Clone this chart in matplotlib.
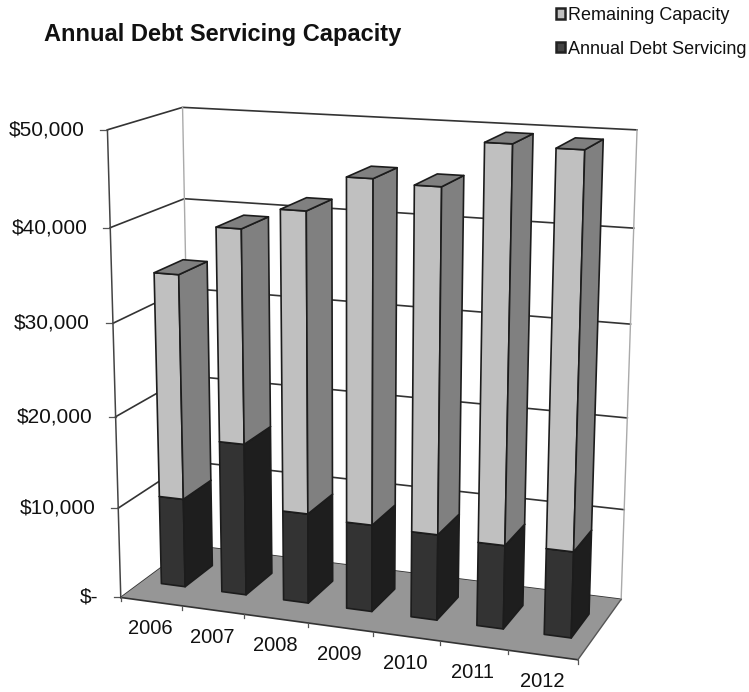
import numpy as np
import matplotlib
matplotlib.use("Agg")
import matplotlib.pyplot as plt
from matplotlib.patches import Patch, Polygon

plt.rcParams['font.family'] = ['Liberation Sans', 'DejaVu Sans']

years = ["2006", "2007", "2008", "2009", "2010", "2011", "2012"]
debt_service = [9900, 16750, 9900, 9500, 9300, 9000, 9200]
remaining = [24500, 22950, 32100, 36200, 36000, 40900, 40500]
tick_values = [0, 10000, 20000, 30000, 40000, 50000]
tick_labels = ["$-", "$10,000", "$20,000", "$30,000", "$40,000", "$50,000"]

AXIS_MAX = 50000
N = len(years)

# box corners as seen on the page: (category, depth, height) -> pixel
corners = [
    ((0, 0, 0), (122, 598)),
    ((1, 0, 0), (577, 660)),
    ((0, 1, 0), (190, 545)),
    ((1, 1, 0), (622, 599)),
    ((0, 0, 1), (107, 129)),
    ((0, 1, 1), (183, 108)),
    ((1, 1, 1), (637, 130)),
]


def fit_camera(pairs):
    rows = []
    for (x, y, z), (u, v) in pairs:
        rows.append([x, y, z, 1, 0, 0, 0, 0, -u * x, -u * y, -u * z, -u])
        rows.append([0, 0, 0, 0, x, y, z, 1, -v * x, -v * y, -v * z, -v])
    return np.linalg.svd(np.array(rows, dtype=float))[2][-1].reshape(3, 4)


CAM = fit_camera(corners)


def project(cat, depth, value):
    p = CAM @ np.array([cat / N, depth, value / AXIS_MAX, 1.0])
    return p[0] / p[2], p[1] / p[2]


def face(ax, pts, color, z):
    ax.add_patch(Polygon([project(*p) for p in pts], closed=True, facecolor=color,
                         edgecolor="#1c1c1c", linewidth=1.2, joinstyle="round", zorder=z))


def draw_segment(ax, i, low, high, front, side, top, z):
    x0, x1 = i + 0.31, i + 0.705
    d0, d1 = 0.30, 0.70
    face(ax, [(x0, d0, low), (x1, d0, low), (x1, d0, high), (x0, d0, high)], front, z)
    face(ax, [(x1, d0, low), (x1, d1, low), (x1, d1, high), (x1, d0, high)], side, z)
    face(ax, [(x0, d0, high), (x1, d0, high), (x1, d1, high), (x0, d1, high)], top, z)


fig = plt.figure(figsize=(7.49, 6.92), dpi=100)
ax = fig.add_axes([0, 0, 1, 1])
ax.set_xlim(0, 749)
ax.set_ylim(692, 0)
ax.axis("off")

# floor
ax.add_patch(Polygon([project(0, 0, 0), project(N, 0, 0), project(N, 1, 0), project(0, 1, 0)],
                     closed=True, facecolor="#969696", edgecolor="none", zorder=2))
ax.plot(*zip(project(0, 0, 0), project(N, 0, 0)), color="#333333", lw=1.2, zorder=3)
ax.plot(*zip(project(N, 0, 0), project(N, 1, 0)), color="#555555", lw=1.0, zorder=3)

# walls and gridlines
for val, lab in zip(tick_values, tick_labels):
    pts = [project(0, 0, val), project(0, 1, val), project(N, 1, val)]
    ax.plot(*zip(*pts), color="#333333", lw=1.2, zorder=1)
    fx, fy = pts[0]
    ax.plot([fx - 7, fx], [fy, fy], color="#555555", lw=0.9, zorder=1)
    ax.annotate(lab, (fx, fy), xytext=(-23, 0), textcoords="offset pixels", ha="right",
                va="center", fontsize=15, color="#111111")
ax.plot(*zip(project(0, 0, 0), project(0, 0, AXIS_MAX)), color="#444444", lw=1.1, zorder=1)
ax.plot(*zip(project(0, 1, 0), project(0, 1, AXIS_MAX)), color="#aaaaaa", lw=1.0, zorder=1)
ax.plot(*zip(project(N, 1, 0), project(N, 1, AXIS_MAX)), color="#aaaaaa", lw=1.0, zorder=1)

# category ticks and labels
for i in range(N + 1):
    x, y = project(i, 0, 0)
    ax.plot([x, x], [y, y + 4], color="#555555", lw=0.9, zorder=3)
for i, year in enumerate(years):
    x, y = project(i + 0.5, 0, 0)
    ax.annotate(year, (x, y), xytext=(-1, -27), textcoords="offset pixels", ha="center",
                va="center", fontsize=14.5, color="#111111")

# bars
for i in range(N):
    total = debt_service[i] + remaining[i]
    draw_segment(ax, i, 0, debt_service[i], "#333333", "#1e1e1e", "#1e1e1e", 5 + i)
    draw_segment(ax, i, debt_service[i], total, "#c0c0c0", "#808080", "#808080", 5 + i)

ax.text(44, 35, "Annual Debt Servicing Capacity", fontsize=17, fontweight="bold",
        ha="left", va="center", color="#111111")

handles = [
    Patch(facecolor="#c0c0c0", edgecolor="#222222", linewidth=1.8, label="Remaining Capacity"),
    Patch(facecolor="#444444", edgecolor="#222222", linewidth=1.8, label="Annual Debt Servicing"),
]
ax.legend(handles=handles, loc="upper left", bbox_to_anchor=(556 / 749, 1 - 7 / 692), frameon=False,
          fontsize=13, handlelength=0.5, handleheight=0.5, handletextpad=0.15, labelspacing=0.92,
          borderpad=0, borderaxespad=0, labelcolor="#111111")

fig.savefig("out.png", dpi=100)
